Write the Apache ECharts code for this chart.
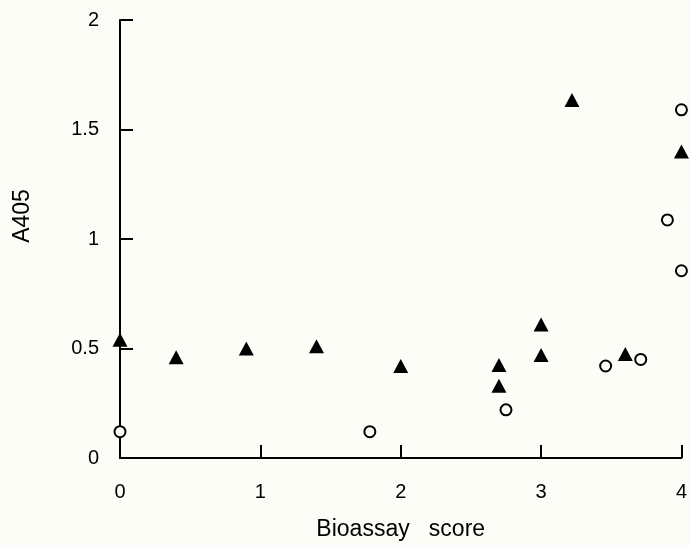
<!DOCTYPE html>
<html>
<head>
<meta charset="utf-8">
<script src="https://cdn.jsdelivr.net/npm/echarts@6/dist/echarts.min.js"></script>
<style>
  html, body { margin: 0; padding: 0; background: #fdfdf8; }
  #chart { width: 690px; height: 546px; }
</style>
</head>
<body>
<div id="chart"></div>
<script>
// filled triangles
const triX = [0, 0.4, 0.9, 1.4, 2.0, 2.7, 2.7, 3.0, 3.0, 3.22, 3.6, 4.0];
const triY = [0.54, 0.46, 0.50, 0.51, 0.42, 0.425, 0.33, 0.61, 0.47, 1.635, 0.475, 1.40];
// open circles
const circX = [0, 1.78, 2.75, 3.46, 3.71, 3.9, 4.0, 4.0];
const circY = [0.12, 0.12, 0.22, 0.42, 0.45, 1.087, 0.855, 1.59];

const xTicks = [0, 1, 2, 3, 4];
const yTicks = [0, 0.5, 1, 1.5, 2];

const font = '"Liberation Sans", Arial, sans-serif';
const ink = '#000';

const chart = echarts.init(document.getElementById('chart'));

chart.setOption({
    backgroundColor: '#fdfdf8',
    animation: false,
    grid: {
        left: 120,
        right: 5,
        top: 20,
        bottom: 88
    },
    xAxis: {
        type: 'value',
        min: xTicks[0],
        max: xTicks[xTicks.length - 1],
        interval: 1,
        name: 'Bioassay   score',
        nameLocation: 'middle',
        nameGap: 60,
        nameTextStyle: { color: ink, fontSize: 23, fontFamily: font },
        splitLine: { show: false },
        axisLine: { lineStyle: { color: ink, width: 2 } },
        axisTick: { inside: true, length: 13, lineStyle: { color: ink, width: 2 } },
        axisLabel: { color: ink, fontSize: 20, fontFamily: font, margin: 24 }
    },
    yAxis: {
        type: 'value',
        min: yTicks[0],
        max: yTicks[yTicks.length - 1],
        interval: 0.5,
        name: 'A405',
        nameLocation: 'middle',
        nameGap: 86,
        nameTextStyle: { color: ink, fontSize: 23, fontFamily: font, padding: [0, 0, 0, 46] },
        splitLine: { show: false },
        axisLine: { show: true, lineStyle: { color: ink, width: 2 } },
        axisTick: { show: true, inside: true, length: 13, lineStyle: { color: ink, width: 2 } },
        axisLabel: { color: ink, fontSize: 20, fontFamily: font, margin: 21 }
    },
    series: [
        {
            type: 'scatter',
            symbol: 'triangle',
            symbolSize: [15, 14],
            itemStyle: { color: ink, opacity: 1 },
            data: triX.map((x, i) => [x, triY[i]])
        },
        {
            type: 'scatter',
            symbol: 'circle',
            symbolSize: 11,
            itemStyle: { color: '#fdfdf8', borderColor: ink, borderWidth: 2, opacity: 1 },
            data: circX.map((x, i) => [x, circY[i]])
        }
    ]
});
</script>
</body>
</html>
